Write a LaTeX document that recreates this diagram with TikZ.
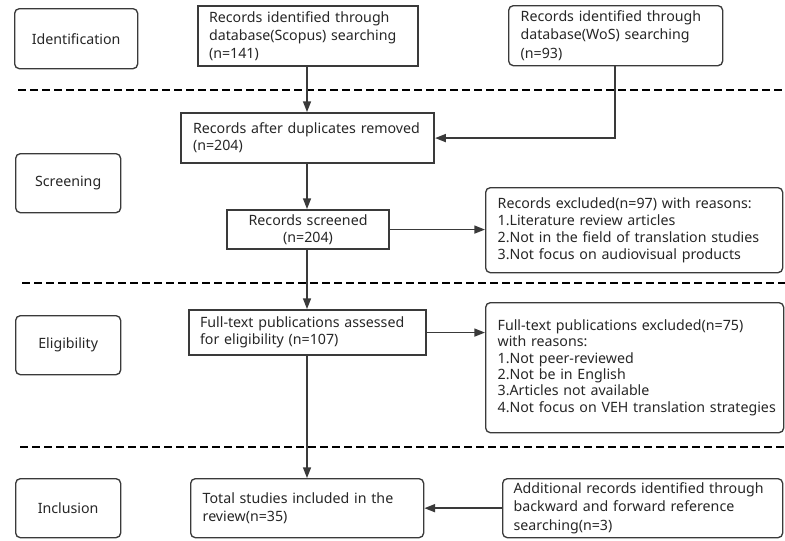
\documentclass[tikz,border=0pt]{standalone}
\usepackage{fontspec}
\setmainfont{Noto Sans}
\usetikzlibrary{arrows.meta}
\definecolor{ln}{HTML}{3A3A3A}
\tikzset{
  base/.style={draw=ln, line width=1pt, anchor=north west, inner ysep=0pt,
    font=\fontsize{10.65pt}{12.9pt}\selectfont, text=black!85},
  tall/.style={font=\fontsize{10.65pt}{13.7pt}\selectfont},
  tight/.style={font=\fontsize{10.65pt}{12.2pt}\selectfont},
  rbox/.style={base, rounded corners=3.5pt},
  sbox/.style={base, line width=1.6pt},
  conn/.style={draw=ln, line width=1.1pt, -{Triangle[length=8pt,width=6pt]}},
  sep/.style={draw=black, line width=1.5pt, dash pattern=on 6pt off 3pt},
}
\newcommand{\bx}[8]{% style, name, x, y, w, h, pad, text
  \node[#1, minimum width=#5*0.75pt, minimum height=#6*0.75pt,
        text width=(#5-2*#7)*0.75pt, inner xsep=#7*0.75pt] (#2) at (#3,#4) {#8};}
\begin{document}
\begin{tikzpicture}[x=0.75pt,y=-0.75pt]
\useasboundingbox (0,0) rectangle (785,540);
% stage boxes
\bx{rbox,align=center}{ident}{14}{8}{123}{60}{4}{Identification}
\bx{rbox,align=center}{scr}{15}{153}{105}{59}{4}{Screening}
\bx{rbox,align=center}{elig}{15}{315}{105}{59}{4}{Eligibility}
\bx{rbox,align=center}{incl}{15}{478}{105}{59}{4}{Inclusion}
% flow boxes
\bx{sbox,tall,align=left}{scopus}{197}{5}{220}{60}{11}{Records identified through\\\mbox{database(Scopus) searching}\\(n=141)}
\bx{rbox,tall,align=left}{wos}{508}{5}{214}{60}{12}{Records identified through\\database(WoS) searching\\(n=93)}
\bx{sbox,align=left}{dup}{180}{112}{253}{50}{12}{Records after duplicates removed\\(n=204)}
\bx{sbox,align=center}{screened}{226}{209}{162}{39}{4}{Records screened\\(n=204)}
\bx{rbox,align=left}{ex1}{485}{187}{297}{85}{12}{Records excluded(n=97) with reasons:\\1.Literature review articles\\2.Not in the field of translation studies\\3.Not focus on audiovisual products}
\bx{sbox,align=left}{full}{188}{309}{237}{45}{11}{Full-text publications assessed\\for eligibility (n=107)}
\bx{rbox,tight,align=left}{ex2}{485}{302}{298}{130}{12}{Full-text publications excluded(n=75)\\with reasons:\\1.Not peer-reviewed\\2.Not be in English\\3.Articles not available\\\mbox{4.Not focus on VEH translation strategies}}
\bx{rbox,tall,align=left}{total}{190}{478}{233}{59}{12}{Total studies included in the\\review(n=35)}
\bx{rbox,tall,align=left}{add}{502}{478}{280}{59}{11}{Additional records identified through\\backward and forward reference\\searching(n=3)}
% separators
\coordinate (s1a) at (18,90); \coordinate (s1b) at (785,90);
\coordinate (s2a) at (22,283); \coordinate (s2b) at (785,283);
\coordinate (s3a) at (20,447); \coordinate (s3b) at (785,447);
\draw[sep] (s1a) -- (s1b);
\draw[sep] (s2a) -- (s2b);
\draw[sep] (s3a) -- (s3b);
% connectors
\draw[conn] (scopus.south -| 307,0) -- (dup.north -| 307,0);
\draw[conn] (wos.south -| 615,0) |- (dup.east);
\draw[conn] (dup.south -| 307,0) -- (screened.north -| 307,0);
\draw[conn] (screened.east) -- (screened.east -| ex1.west);
\draw[conn] (screened.south -| 307,0) -- (full.north -| 307,0);
\draw[conn] (full.east) -- (full.east -| ex2.west);
\draw[conn] (full.south -| 307,0) -- (total.north -| 307,0);
\draw[conn] (add.west) -- (add.west -| total.east);
\end{tikzpicture}
\end{document}
